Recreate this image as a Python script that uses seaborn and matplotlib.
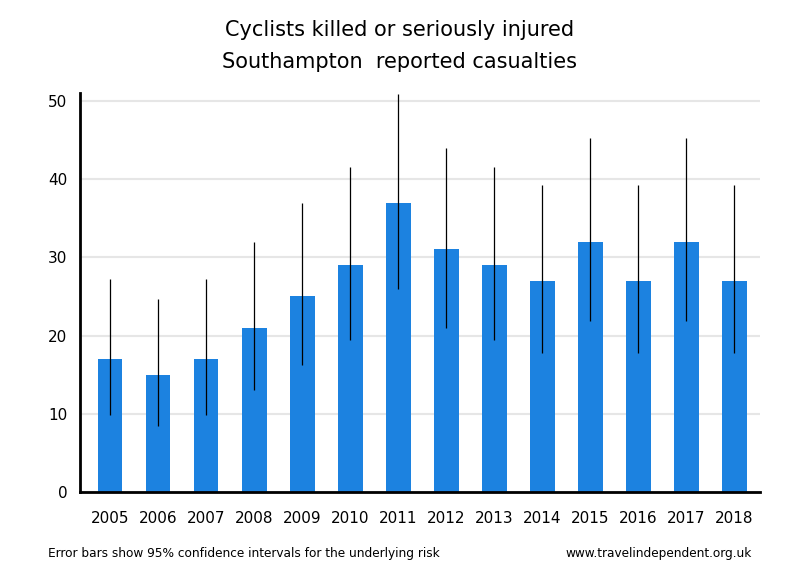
import pandas as pd
import matplotlib.pyplot as plt
import seaborn as sns
import numpy as np

years = ["2005", "2006", "2007", "2008", "2009", "2010", "2011",
         "2012", "2013", "2014", "2015", "2016", "2017", "2018"]
casualties = [17, 15, 17, 21, 25, 29, 37, 31, 29, 27, 32, 27, 32, 27]
ci_low = [9.9, 8.4, 9.9, 13.0, 16.2, 19.4, 26.0, 21.0, 19.4, 17.8, 21.9, 17.8, 21.9, 17.8]
ci_high = [27.2, 24.7, 27.2, 32.0, 36.9, 41.6, 50.9, 44.0, 41.6, 39.2, 45.2, 39.2, 45.2, 39.2]

df = pd.DataFrame({"year": years, "ksi": casualties, "lo": ci_low, "hi": ci_high})

sns.set_style("white")
plt.rcParams['font.family'] = ['DejaVu Sans']
plt.rcParams['text.color'] = 'black'
plt.rcParams['xtick.color'] = 'black'
plt.rcParams['ytick.color'] = 'black'

fig = plt.figure(figsize=(8, 5.8), dpi=100)
ax = fig.add_axes([0.1, 0.1517, 0.85, 0.688])

sns.barplot(x="year", y="ksi", data=df, color="#1c82e0", saturation=1,
            width=0.52, errorbar=None, linewidth=0, ax=ax)
ax.vlines(np.arange(len(df)), df["lo"], df["hi"], color="black", linewidth=0.9)

ax.set_ylim(0, 51)
ax.set_xlim(-0.625, len(df) - 0.46)
ax.set_yticks([0, 10, 20, 30, 40, 50])
ax.yaxis.grid(True, color="#e6e6e6", linewidth=1.5)
ax.set_axisbelow(True)
ax.set_xlabel("")
ax.set_ylabel("")
for s in ["top", "right"]:
    ax.spines[s].set_visible(False)
for s in ["left", "bottom"]:
    ax.spines[s].set_color("black")
    ax.spines[s].set_linewidth(2)
ax.tick_params(axis="y", direction="out", length=6, width=2, labelsize=11, pad=3)
ax.tick_params(axis="x", length=0, labelsize=11, pad=14)

fig.text(0.5, 0.948, "Cyclists killed or seriously injured", ha="center", va="center", fontsize=15)
fig.text(0.5, 0.893, "Southampton  reported casualties", ha="center", va="center", fontsize=15)
fig.text(0.06, 0.046, "Error bars show 95% confidence intervals for the underlying risk",
         ha="left", va="center", fontsize=8.7)
fig.text(0.94, 0.046, "www.travelindependent.org.uk", ha="right", va="center", fontsize=8.7)

plt.savefig("out.png", dpi=100)
